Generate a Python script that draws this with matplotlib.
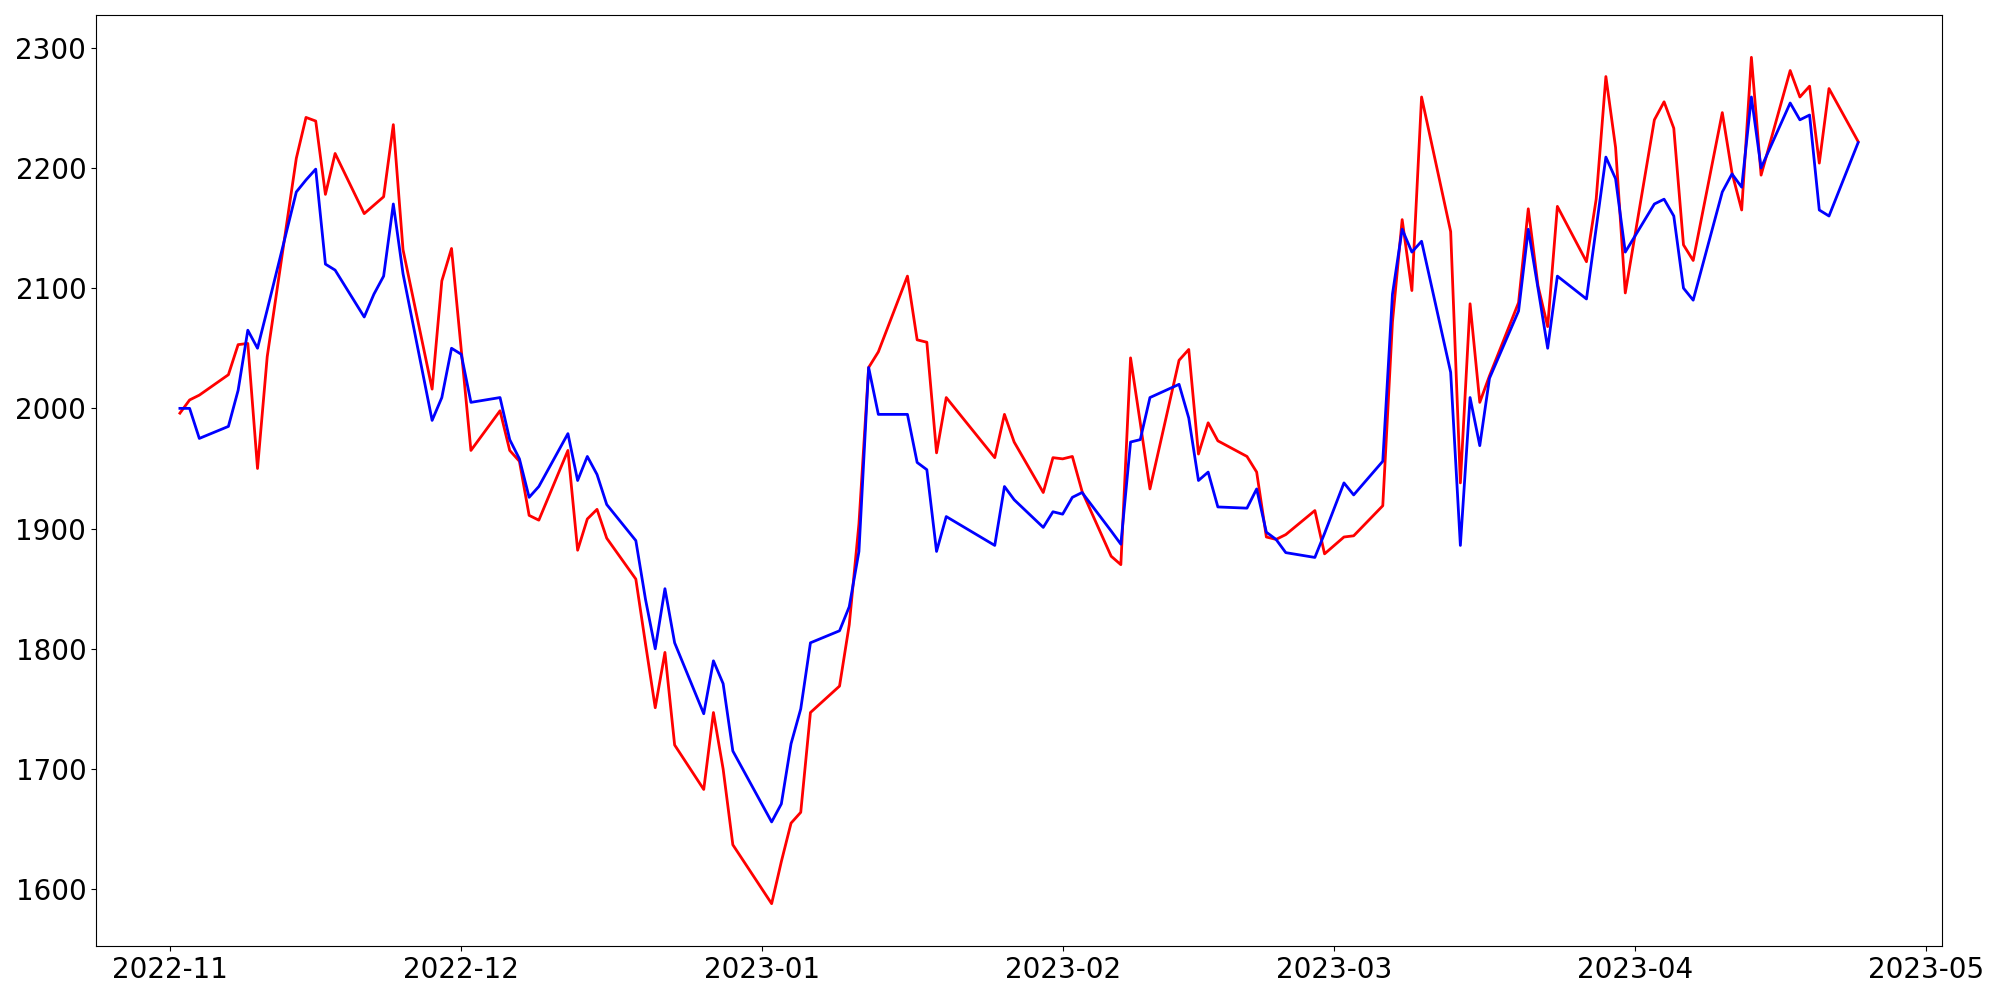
import pandas as pd
import matplotlib
matplotlib.use("Agg")
import matplotlib.pyplot as plt

dates = [
    "2022-11-02", "2022-11-03", "2022-11-04", "2022-11-07", "2022-11-08", "2022-11-09",
    "2022-11-10", "2022-11-11", "2022-11-14", "2022-11-15", "2022-11-16", "2022-11-17",
    "2022-11-18", "2022-11-21", "2022-11-22", "2022-11-23", "2022-11-24", "2022-11-25",
    "2022-11-28", "2022-11-29", "2022-11-30", "2022-12-01", "2022-12-02", "2022-12-05",
    "2022-12-06", "2022-12-07", "2022-12-08", "2022-12-09", "2022-12-12", "2022-12-13",
    "2022-12-14", "2022-12-15", "2022-12-16", "2022-12-19", "2022-12-20", "2022-12-21",
    "2022-12-22", "2022-12-23", "2022-12-26", "2022-12-27", "2022-12-28", "2022-12-29",
    "2023-01-02", "2023-01-03", "2023-01-04", "2023-01-05", "2023-01-06", "2023-01-09",
    "2023-01-10", "2023-01-11", "2023-01-12", "2023-01-13", "2023-01-16", "2023-01-17",
    "2023-01-18", "2023-01-19", "2023-01-20", "2023-01-25", "2023-01-26", "2023-01-27",
    "2023-01-30", "2023-01-31", "2023-02-01", "2023-02-02", "2023-02-03", "2023-02-06",
    "2023-02-07", "2023-02-08", "2023-02-09", "2023-02-10", "2023-02-13", "2023-02-14",
    "2023-02-15", "2023-02-16", "2023-02-17", "2023-02-20", "2023-02-21", "2023-02-22",
    "2023-02-23", "2023-02-24", "2023-02-27", "2023-02-28", "2023-03-02", "2023-03-03",
    "2023-03-06", "2023-03-07", "2023-03-08", "2023-03-09", "2023-03-10", "2023-03-13",
    "2023-03-14", "2023-03-15", "2023-03-16", "2023-03-17", "2023-03-20", "2023-03-21",
    "2023-03-22", "2023-03-23", "2023-03-24", "2023-03-27", "2023-03-28", "2023-03-29",
    "2023-03-30", "2023-03-31", "2023-04-03", "2023-04-04", "2023-04-05", "2023-04-06",
    "2023-04-07", "2023-04-10", "2023-04-11", "2023-04-12", "2023-04-13", "2023-04-14",
    "2023-04-17", "2023-04-18", "2023-04-19", "2023-04-20", "2023-04-21", "2023-04-24",
]

red = [
    1996, 2007, 2011, 2028, 2053, 2054,
    1950, 2043, 2208, 2242, 2239, 2178,
    2212, 2162, 2169, 2176, 2236, 2132,
    2016, 2106, 2133, 2049, 1965, 1998,
    1965, 1956, 1911, 1907, 1965, 1882,
    1908, 1916, 1892, 1858, 1804, 1751,
    1797, 1720, 1683, 1747, 1700, 1637,
    1588, 1623, 1655, 1664, 1747, 1769,
    1820, 1904, 2034, 2047, 2110, 2057,
    2055, 1963, 2009, 1959, 1995, 1972,
    1930, 1959, 1958, 1960, 1931, 1877,
    1870, 2042, 1988, 1933, 2040, 2049,
    1962, 1988, 1973, 1960, 1947, 1893,
    1891, 1895, 1915, 1879, 1893, 1894,
    1919, 2072, 2157, 2098, 2259, 2147,
    1938, 2087, 2005, 2027, 2088, 2166,
    2102, 2068, 2168, 2122, 2174, 2276,
    2217, 2096, 2240, 2255, 2233, 2136,
    2123, 2246, 2196, 2165, 2292, 2194,
    2281, 2259, 2268, 2204, 2266, 2222,
]

blue = [
    2000, 2000, 1975, 1985, 2015, 2065,
    2050, 2082, 2180, 2190, 2199, 2120,
    2115, 2076, 2095, 2110, 2170, 2112,
    1990, 2009, 2050, 2045, 2005, 2009,
    1974, 1958, 1926, 1935, 1979, 1940,
    1960, 1945, 1920, 1890, 1841, 1800,
    1850, 1805, 1746, 1790, 1771, 1715,
    1656, 1671, 1721, 1750, 1805, 1815,
    1835, 1881, 2034, 1995, 1995, 1955,
    1949, 1881, 1910, 1886, 1935, 1924,
    1901, 1914, 1912, 1926, 1930, 1898,
    1887, 1972, 1974, 2009, 2020, 1992,
    1940, 1947, 1918, 1917, 1933, 1897,
    1891, 1880, 1876, 1896, 1938, 1928,
    1956, 2095, 2149, 2130, 2139, 2030,
    1886, 2009, 1969, 2025, 2081, 2149,
    2100, 2050, 2110, 2091, 2150, 2209,
    2191, 2130, 2170, 2174, 2160, 2100,
    2090, 2180, 2195, 2184, 2259, 2200,
    2254, 2240, 2244, 2165, 2160, 2221,
]

x = pd.to_datetime(dates)

fig, ax = plt.subplots(figsize=(20, 10), dpi=100)
ax.plot(x, red, color="red", linewidth=2)
ax.plot(x, blue, color="blue", linewidth=2)
ax.tick_params(axis="both", labelsize=20)
fig.subplots_adjust(left=0.048, right=0.971, top=0.985, bottom=0.054)
fig.savefig("out.png")
